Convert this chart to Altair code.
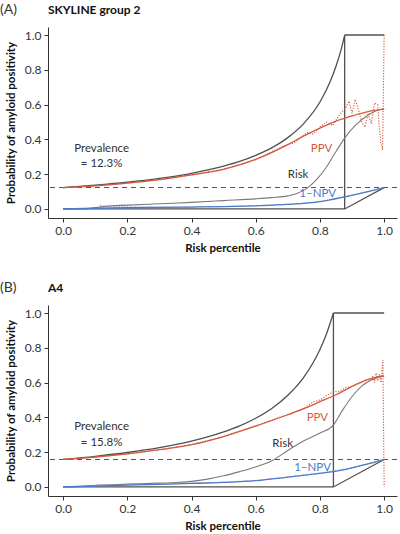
import altair as alt
import pandas as pd

# ---------------- Panel A: SKYLINE group 2 ----------------
A_prev = 0.123
A_cut = 0.877  # percentile where the best-case PPV reaches 1

A_up_x = [0.0, 0.1, 0.2, 0.3, 0.4, 0.5, 0.55, 0.6, 0.65, 0.7, 0.75, 0.8, 0.83, 0.85, 0.865, 0.877]
A_up_y = [0.123, 0.137, 0.154, 0.176, 0.205, 0.246, 0.273, 0.308, 0.351, 0.41, 0.492, 0.615, 0.724, 0.82, 0.91, 1.0]

A_ppv_x = [0.0, 0.1, 0.2, 0.3, 0.4, 0.5, 0.6, 0.7, 0.75, 0.8, 0.85, 0.9, 0.95, 1.0]
A_ppv_y = [0.123, 0.133, 0.148, 0.168, 0.196, 0.228, 0.285, 0.37, 0.42, 0.465, 0.505, 0.535, 0.56, 0.575]

A_risk_x = [0.0, 0.07, 0.1, 0.13, 0.2, 0.3, 0.4, 0.5, 0.6, 0.65, 0.7, 0.73, 0.76, 0.79, 0.82,
            0.85, 0.878, 0.91, 0.95, 0.975, 1.0]
A_risk_y = [0.0, 0.0, 0.008, 0.015, 0.022, 0.03, 0.038, 0.048, 0.058, 0.065, 0.075, 0.09, 0.12,
            0.17, 0.24, 0.33, 0.41, 0.48, 0.54, 0.565, 0.575]

A_npv_x = [0.0, 0.1, 0.2, 0.3, 0.4, 0.5, 0.6, 0.7, 0.8, 0.878, 0.95, 1.0]
A_npv_y = [0.0, 0.004, 0.007, 0.009, 0.011, 0.013, 0.018, 0.026, 0.042, 0.07, 0.1, 0.123]

A_ppvd_x = [0.0, 0.1, 0.2, 0.3, 0.4, 0.5, 0.6, 0.65, 0.7, 0.72, 0.74, 0.76, 0.78, 0.8, 0.82, 0.84,
            0.86, 0.88, 0.89, 0.9, 0.91, 0.92, 0.93, 0.94, 0.95, 0.96, 0.97, 0.98, 0.985, 0.99, 0.995, 1.0]
A_ppvd_y = [0.123, 0.133, 0.148, 0.168, 0.197, 0.229, 0.283, 0.33, 0.372, 0.38, 0.41, 0.44, 0.43, 0.47,
            0.5, 0.48, 0.54, 0.58, 0.62, 0.55, 0.63, 0.57, 0.5, 0.47, 0.55, 0.49, 0.61, 0.6, 0.46, 0.38, 0.34, 1.0]

A_npvd_x = [0.115, 0.13, 0.2, 0.3, 0.4, 0.5, 0.6, 0.7, 0.8, 0.9, 1.0]
A_npvd_y = [0.022, 0.016, 0.012, 0.011, 0.012, 0.014, 0.019, 0.027, 0.044, 0.08, 0.123]

A_lab_text = ["Prevalence", "= 12.3%", "PPV", "Risk", "1\u2013NPV"]
A_lab_x = [0.12, 0.12, 0.805, 0.732, 0.793]
A_lab_y = [0.345, 0.26, 0.345, 0.195, 0.086]

# ---------------- Panel B: A4 ----------------
B_prev = 0.158
B_cut = 0.842

B_up_x = [0.0, 0.1, 0.2, 0.3, 0.4, 0.5, 0.55, 0.6, 0.65, 0.7, 0.75, 0.78, 0.8, 0.82, 0.842]
B_up_y = [0.158, 0.176, 0.198, 0.226, 0.263, 0.316, 0.351, 0.395, 0.451, 0.527, 0.632, 0.718, 0.79, 0.878, 1.0]

B_ppv_x = [0.0, 0.1, 0.2, 0.3, 0.4, 0.5, 0.6, 0.7, 0.75, 0.8, 0.85, 0.9, 0.95, 1.0]
B_ppv_y = [0.158, 0.172, 0.19, 0.214, 0.243, 0.29, 0.35, 0.415, 0.45, 0.49, 0.53, 0.578, 0.618, 0.64]

B_risk_x = [0.0, 0.05, 0.1, 0.2, 0.3, 0.35, 0.4, 0.45, 0.5, 0.55, 0.6, 0.65, 0.7, 0.75, 0.8, 0.842,
            0.87, 0.9, 0.93, 0.96, 0.98, 1.0]
B_risk_y = [0.0, 0.003, 0.01, 0.016, 0.022, 0.026, 0.032, 0.045, 0.064, 0.088, 0.115, 0.15, 0.21,
            0.265, 0.31, 0.356, 0.44, 0.52, 0.58, 0.615, 0.63, 0.635]

B_npv_x = [0.0, 0.1, 0.2, 0.3, 0.4, 0.5, 0.6, 0.7, 0.8, 0.842, 0.9, 0.95, 1.0]
B_npv_y = [0.0, 0.005, 0.01, 0.015, 0.02, 0.026, 0.036, 0.056, 0.078, 0.088, 0.11, 0.132, 0.158]

B_ppvd_x = [0.0, 0.1, 0.2, 0.3, 0.4, 0.5, 0.6, 0.7, 0.75, 0.78, 0.8, 0.82, 0.84, 0.86, 0.88, 0.9,
            0.92, 0.93, 0.94, 0.95, 0.96, 0.965, 0.97, 0.975, 0.98, 0.985, 0.99, 0.993, 0.996, 1.0]
B_ppvd_y = [0.158, 0.172, 0.19, 0.214, 0.244, 0.29, 0.352, 0.417, 0.452, 0.49, 0.5, 0.525, 0.545,
            0.55, 0.57, 0.58, 0.595, 0.6, 0.61, 0.615, 0.62, 0.64, 0.6, 0.655, 0.61, 0.65, 0.6,
            0.66, 0.73, 0.0]

B_npvd_x = [0.0, 0.1, 0.2, 0.3, 0.4, 0.5, 0.6, 0.7, 0.8, 0.9, 1.0]
B_npvd_y = [0.0, 0.008, 0.013, 0.017, 0.022, 0.028, 0.038, 0.057, 0.08, 0.112, 0.158]

B_lab_text = ["Prevalence", "= 15.8%", "PPV", "Risk", "1\u2013NPV"]
B_lab_x = [0.12, 0.12, 0.792, 0.684, 0.777]
B_lab_y = [0.345, 0.255, 0.395, 0.245, 0.107]

# ---------------- styling ----------------
RED = "#d4583f"
BLUE = "#4d79c7"
BLUE_LIGHT = "#86a3db"
DARK = "#505050"
GREY = "#7a7a7a"
TEXT = "#333333"
LAB_COLORS = [TEXT, TEXT, RED, TEXT, BLUE]
FONT = "Lato"

TICKS = [0.0, 0.2, 0.4, 0.6, 0.8, 1.0]


def xenc():
    return alt.X(
        "x:Q",
        scale=alt.Scale(domain=[-0.047, 1.04], nice=False, zero=False),
        axis=alt.Axis(values=TICKS, format=".1f", title="Risk percentile"),
    )


def yenc():
    return alt.Y(
        "y:Q",
        scale=alt.Scale(domain=[-0.052, 1.046], nice=False, zero=False),
        axis=alt.Axis(values=TICKS, format=".1f", title="Probability of amyloid positivity"),
    )


def series(xs, ys):
    return pd.DataFrame({"x": xs, "y": ys, "k": list(range(len(xs)))})


def smooth(df, color, width):
    return alt.Chart(df).mark_line(color=color, strokeWidth=width, interpolate="monotone").encode(
        x=xenc(), y=yenc(), order="k:Q"
    )


def panel(tag, name, prev, cut, up_x, up_y, ppv_x, ppv_y, risk_x, risk_y, npv_x, npv_y,
          ppvd_x, ppvd_y, npvd_x, npvd_y, lab_text, lab_x, lab_y):
    # best-case curve up to the cut-off
    upper = smooth(series(up_x, up_y), DARK, 1.3)
    # flat top, worst-case edge and the drop at the cut-off
    bx = [cut, 1.0] + [0.0, cut, 1.0] + [cut, cut]
    by = [1.0, 1.0] + [0.0, 0.0, prev] + [0.0, 1.0]
    bg = ["top"] * 2 + ["lower"] * 3 + ["drop"] * 2
    bounds = pd.DataFrame({"x": bx, "y": by, "g": bg, "k": list(range(len(bx)))})
    bound_line = alt.Chart(bounds).mark_line(color=DARK, strokeWidth=1.3).encode(
        x=xenc(), y=yenc(), detail="g:N", order="k:Q"
    )
    prev_rule = alt.Chart(pd.DataFrame({"y": [prev]})).mark_rule(
        color="#555555", strokeDash=[5, 4], strokeWidth=1.1
    ).encode(y=yenc())

    risk = smooth(series(risk_x, risk_y), GREY, 1.1)
    npv_dot = alt.Chart(series(npvd_x, npvd_y)).mark_line(
        color=BLUE_LIGHT, strokeWidth=1.1, strokeDash=[1.2, 1.5], interpolate="monotone"
    ).encode(x=xenc(), y=yenc(), order="k:Q")
    npv = smooth(series(npv_x, npv_y), BLUE, 1.3)
    ppv_dot = alt.Chart(series(ppvd_x, ppvd_y)).mark_line(
        color=RED, strokeWidth=1.1, strokeDash=[1.2, 1.5]
    ).encode(x=xenc(), y=yenc(), order="k:Q")
    ppv = smooth(series(ppv_x, ppv_y), RED, 1.3)

    labels = alt.Chart(
        pd.DataFrame({"x": lab_x, "y": lab_y, "t": lab_text, "c": LAB_COLORS})
    ).mark_text(font=FONT, fontSize=11.5, align="center", baseline="middle").encode(
        x=xenc(), y=yenc(), text="t:N", color=alt.Color("c:N", scale=None)
    )

    tag_text = alt.Chart(pd.DataFrame({"t": [tag]})).mark_text(
        font=FONT, fontSize=14, align="left", baseline="middle", color=TEXT
    ).encode(x=alt.value(-48), y=alt.value(-17), text="t:N")
    name_text = alt.Chart(pd.DataFrame({"t": [name]})).mark_text(
        font=FONT, fontSize=12, fontWeight="bold", align="left", baseline="middle", color="#111111"
    ).encode(x=alt.value(0), y=alt.value(-17), text="t:N")

    return alt.layer(
        prev_rule, upper, bound_line, risk, npv_dot, npv, ppv_dot, ppv, labels, tag_text, name_text
    ).properties(width=349, height=191)


top = panel("(A)", "SKYLINE group 2", A_prev, A_cut, A_up_x, A_up_y, A_ppv_x, A_ppv_y,
            A_risk_x, A_risk_y, A_npv_x, A_npv_y, A_ppvd_x, A_ppvd_y, A_npvd_x, A_npvd_y,
            A_lab_text, A_lab_x, A_lab_y)
bottom = panel("(B)", "A4", B_prev, B_cut, B_up_x, B_up_y, B_ppv_x, B_ppv_y,
               B_risk_x, B_risk_y, B_npv_x, B_npv_y, B_ppvd_x, B_ppvd_y, B_npvd_x, B_npvd_y,
               B_lab_text, B_lab_x, B_lab_y)

chart = alt.vconcat(top, bottom, spacing=27).properties(
    padding={"left": 0, "top": 3, "right": 2, "bottom": 2},
    background="white",
).configure_view(stroke=None).configure_axis(
    grid=False,
    domainColor="#333333",
    tickColor="#333333",
    tickSize=4,
    labelFont=FONT,
    labelFontSize=12,
    labelColor=TEXT,
    labelPadding=3,
    titleFont=FONT,
    titleFontSize=11.5,
    titleFontWeight="bold",
    titleColor="#111111",
).configure_axisX(titlePadding=6).configure_axisY(titlePadding=8)

chart.save("out.html", embed_options={"renderer": "svg", "actions": False})
